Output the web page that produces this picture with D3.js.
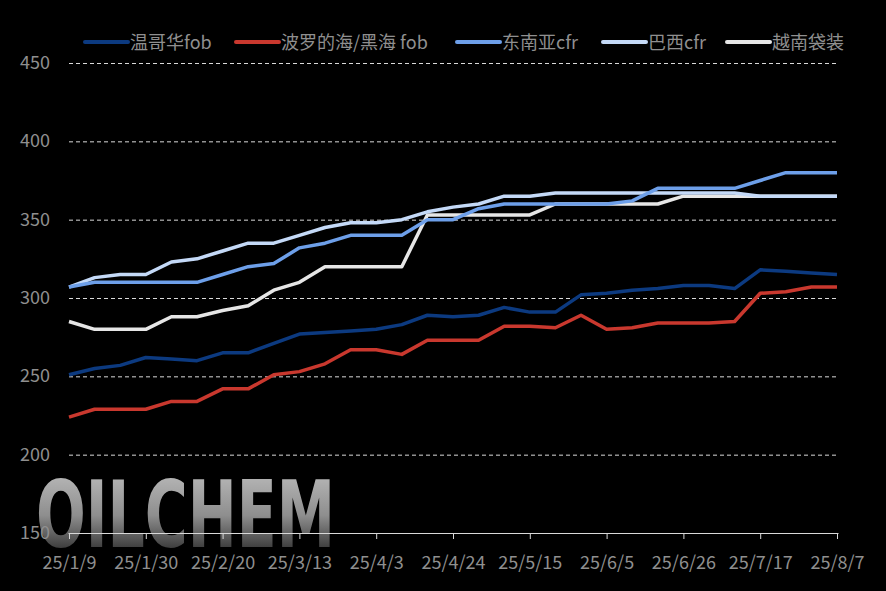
<!DOCTYPE html>
<html><head><meta charset="utf-8">
<script src="https://cdn.jsdelivr.net/npm/d3@7"></script>
<style>html,body{margin:0;padding:0;background:#000;}svg{display:block;}</style>
</head><body>
<script>
const dates = ["25/1/9","25/1/16","25/1/23","25/1/30","25/2/6","25/2/13","25/2/20","25/2/27","25/3/6","25/3/13","25/3/20","25/3/27","25/4/3","25/4/10","25/4/17","25/4/24","25/5/1","25/5/8","25/5/15","25/5/22","25/5/29","25/6/5","25/6/12","25/6/19","25/6/26","25/7/3","25/7/10","25/7/17","25/7/24","25/7/31","25/8/7"];
const tickLabels = ["25/1/9","25/1/30","25/2/20","25/3/13","25/4/3","25/4/24","25/5/15","25/6/5","25/6/26","25/7/17","25/8/7"];
const yTicks = [150,200,250,300,350,400,450];
const seriesNames = ["温哥华fob","波罗的海/黑海 fob","东南亚cfr","巴西cfr","越南袋装"];
const vancouver = [251,255,257,262,261,260,265,265,271,277,278,279,280,283,289,288,289,294,291,291,302,303,305,306,308,308,306,318,317,316,315];
const baltic    = [224,229,229,229,234,234,242,242,251,253,258,267,267,264,273,273,273,282,282,281,289,280,281,284,284,284,285,303,304,307,307];
const seAsia    = [307,310,310,310,310,310,315,320,322,332,335,340,340,340,350,350,357,360,360,360,360,360,362,370,370,370,370,375,380,380,380];
const brazil    = [307,313,315,315,323,325,330,335,335,340,345,348,348,350,355,358,360,365,365,367,367,367,367,367,367,367,367,365,365,365,365];
const vietnam   = [285,280,280,280,288,288,292,295,305,310,320,320,320,320,353,353,353,353,353,360,360,360,360,360,365,365,365,365,365,365,365];
const colors = ["#0c3a80","#c9382e","#6d9fe9","#c4d9f7","#e6e6e6"];

const W=886,H=591;
const svg=d3.select("body").append("svg").attr("width",W).attr("height",H);
svg.append("rect").attr("width",W).attr("height",H).attr("fill","#000");

const x=d3.scalePoint().domain(dates).range([69,837]);
const y=d3.scaleLinear().domain([150,450]).range([533,63]);
const font="'Noto Sans CJK SC','Noto Sans',sans-serif";

// watermark
const defs=svg.append("defs");
const grad=defs.append("linearGradient").attr("id","wm").attr("x1",0).attr("y1",0).attr("x2",0).attr("y2",1);
grad.append("stop").attr("offset","0%").attr("stop-color","#c2c2c2");
grad.append("stop").attr("offset","50%").attr("stop-color","#8e8e8e");
grad.append("stop").attr("offset","100%").attr("stop-color","#0a0a0a");
svg.append("text").attr("x",36).attr("y",547).attr("textLength",299).attr("lengthAdjust","spacingAndGlyphs")
  .attr("font-family","'DejaVu Sans Condensed','Liberation Sans Narrow',sans-serif").attr("font-weight","bold").attr("font-size",92)
  .attr("fill","url(#wm)").text("OILCHEM");

// grid
svg.append("g").selectAll("line").data(yTicks.filter(d=>d>150)).join("line")
  .attr("x1",69).attr("x2",838).attr("y1",d=>y(d)+0.5).attr("y2",d=>y(d)+0.5)
  .attr("stroke","#d9d9d9").attr("stroke-width",1).attr("stroke-dasharray","4,3");

// y labels
svg.append("g").selectAll("text").data(yTicks).join("text")
  .attr("x",50).attr("y",d=>y(d)+6).attr("text-anchor","end")
  .attr("fill","#8f8f8f").attr("font-family",font).attr("font-size",18).text(d=>d);

// x axis
const xAxis=d3.axisBottom(x).tickValues(tickLabels).tickSize(6).tickPadding(17).tickSizeOuter(0);
const gx=svg.append("g").attr("transform","translate(0,533)").call(xAxis);
gx.select(".domain").attr("stroke","#d9d9d9").attr("d","M68.5,0.5H838.5");
gx.selectAll(".tick line").attr("stroke","#d9d9d9");
gx.selectAll(".tick text").attr("fill","#8f8f8f").attr("font-family",font).attr("font-size",18);

// lines
const all=[vancouver,baltic,seAsia,brazil,vietnam];
const line=d3.line().x((d,i)=>x(dates[i])).y(d=>y(d));
const order=[4,3,2,1,0];
order.forEach(k=>{
  svg.append("path").datum(all[k]).attr("d",line).attr("fill","none")
    .attr("stroke",colors[k]).attr("stroke-width",3.5).attr("stroke-linejoin","round");
});

// legend
const legX=[85,236,457,603,727];
const lg=svg.append("g");
seriesNames.forEach((n,i)=>{
  lg.append("line").attr("x1",legX[i]).attr("x2",legX[i]+43).attr("y1",42).attr("y2",42)
    .attr("stroke",colors[i]).attr("stroke-width",4).attr("stroke-linecap","round");
  lg.append("text").attr("x",legX[i]+45).attr("y",49).attr("fill","#8f8f8f")
    .attr("font-family",font).attr("font-size",18).text(n);
});
</script>
</body></html>
